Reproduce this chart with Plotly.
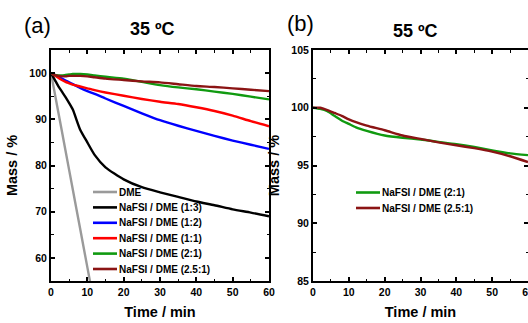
import plotly.graph_objects as go

# ---------------- data ----------------
t_a = [0, 1, 2, 3, 4, 5, 6, 8, 10, 12, 15, 20, 25, 30, 35, 40, 45, 50, 55, 60]
dme_t = [0, 2, 4, 6, 8, 10, 12]
dme_mass = [100, 91.6, 83.2, 74.8, 66.4, 58.0, 49.6]
mass_1_3 = [100, 98.6, 97.2, 96.0, 94.8, 93.5, 92.1, 87.8, 85.0, 82.3, 79.6, 77.0, 75.3, 74.2, 73.2, 72.2, 71.4, 70.5, 69.8, 69.0]
mass_1_2 = [100, 99.6, 99.2, 98.8, 98.4, 98.0, 97.6, 96.8, 96.1, 95.5, 94.5, 92.9, 91.3, 89.8, 88.6, 87.5, 86.4, 85.4, 84.5, 83.6]
mass_1_1 = [100, 99.5, 99.0, 98.5, 98.1, 97.8, 97.5, 97.1, 96.7, 96.3, 95.8, 95.1, 94.4, 93.8, 93.3, 92.6, 91.8, 90.8, 89.6, 88.5]
mass_2_1 = [100, 99.6, 99.5, 99.5, 99.6, 99.7, 99.8, 99.8, 99.7, 99.5, 99.2, 98.8, 98.1, 97.4, 96.9, 96.5, 96.0, 95.5, 94.9, 94.3]
mass_25_1 = [100, 99.6, 99.4, 99.3, 99.3, 99.4, 99.4, 99.4, 99.3, 99.1, 98.8, 98.5, 98.2, 98.0, 97.6, 97.2, 97.0, 96.7, 96.4, 96.1]

t_b = [0, 2, 4, 6, 8, 10, 12, 15, 20, 25, 30, 35, 40, 45, 50, 55, 60]
mass55_2_1 = [100, 99.9, 99.7, 99.3, 98.9, 98.6, 98.3, 98.0, 97.6, 97.4, 97.25, 97.05, 96.85, 96.6, 96.3, 96.05, 95.9]
mass55_25_1 = [100, 100, 99.8, 99.55, 99.3, 99.0, 98.75, 98.45, 98.05, 97.6, 97.3, 97.0, 96.75, 96.5, 96.2, 95.8, 95.3]

labels_a = ["DME", "NaFSI / DME (1:3)", "NaFSI / DME (1:2)", "NaFSI / DME (1:1)",
            "NaFSI / DME (2:1)", "NaFSI / DME (2.5:1)"]
labels_b = ["NaFSI / DME (2:1)", "NaFSI / DME (2.5:1)"]
x_ticks = [0, 10, 20, 30, 40, 50, 60]
y_ticks_a = [60, 70, 80, 90, 100]
y_ticks_b = [85, 90, 95, 100, 105]

# ---------------- style ----------------
FONT = "Liberation Sans, Arial, sans-serif"
C_GRAY = "#9a9a9a"
C_BLACK = "#000000"
C_BLUE = "#0000ff"
C_RED = "#ff0000"
C_GREEN = "#109a10"
C_BROWN = "#8b1414"
colors_a = [C_GRAY, C_BLACK, C_BLUE, C_RED, C_GREEN, C_BROWN]
colors_b = [C_GREEN, C_BROWN]
LW = 2.4

W, H = 528, 323
def px(x):
    return x / W
def py(y):
    return 1 - y / H

fig = go.Figure()
series_a = [(dme_t, dme_mass), (t_a, mass_1_3), (t_a, mass_1_2), (t_a, mass_1_1),
            (t_a, mass_2_1), (t_a, mass_25_1)]
for (x, y), c, name in zip(series_a, colors_a, labels_a):
    fig.add_trace(go.Scatter(x=x, y=y, mode="lines", name=name, showlegend=False,
                             line=dict(color=c, width=LW, shape="spline", smoothing=0.6),
                             xaxis="x", yaxis="y"))
for y, c, name in zip([mass55_2_1, mass55_25_1], colors_b, labels_b):
    fig.add_trace(go.Scatter(x=t_b, y=y, mode="lines", name=name, showlegend=False,
                             line=dict(color=c, width=LW, shape="spline", smoothing=0.6),
                             xaxis="x2", yaxis="y2"))

tickfont = dict(family=FONT, size=10.5, color="black", weight="bold")
titlefont = dict(family=FONT, size=14.5, color="black", weight="bold")

def xax(domain, anchor):
    return dict(domain=domain, anchor=anchor, range=[0, 60], tickvals=x_ticks,
                ticks="inside", ticklen=4, tickwidth=1.5, tickcolor="black",
                minor=dict(dtick=5, ticks="inside", ticklen=2.5, tickwidth=1.2, tickcolor="black"),
                showline=True, linewidth=2, linecolor="black", mirror="ticks",
                showgrid=False, zeroline=False, tickfont=tickfont, automargin=False,
                ticklabeloverflow="allow",
                title=dict(text="Time / min", font=titlefont, standoff=10))

def yax(domain, anchor, rng, tv, minor_dt):
    return dict(domain=domain, anchor=anchor, range=rng, tickvals=tv,
                ticks="inside", ticklen=4, tickwidth=1.5, tickcolor="black",
                minor=dict(dtick=minor_dt, tick0=rng[0], ticks="inside", ticklen=2.5, tickwidth=1.2, tickcolor="black"),
                showline=True, linewidth=2, linecolor="black", mirror="ticks",
                showgrid=False, zeroline=False, tickfont=tickfont, automargin=False,
                title=dict(text="Mass / %", font=titlefont, standoff=8))

ydom = [py(281), py(50)]
fig.update_layout(
    width=W, height=H,
    margin=dict(l=0, r=0, t=0, b=0),
    paper_bgcolor="white", plot_bgcolor="white",
    xaxis=xax([px(51), px(269)], "y"),
    yaxis=yax(ydom, "x", [55, 105], y_ticks_a, 5),
    xaxis2=xax([px(313), 1.0], "y2"),
    yaxis2=yax(ydom, "x2", [85, 105], y_ticks_b, 2.5),
    showlegend=False,
)

# panel labels and titles
ann = [
    dict(text="(a)", x=px(37), y=py(25), font=dict(family=FONT, size=22, color="black")),
    dict(text="35 ºC", x=px(152), y=py(29), font=dict(family=FONT, size=18, color="black", weight="bold")),
    dict(text="(b)", x=px(300), y=py(24), font=dict(family=FONT, size=22, color="black")),
    dict(text="55 ºC", x=px(415), y=py(31), font=dict(family=FONT, size=18, color="black", weight="bold")),
]
for a in ann:
    fig.add_annotation(xref="paper", yref="paper", showarrow=False, xanchor="center", yanchor="middle", **a)

# manual legends (compact row spacing like the original)
def legend(labels, colors, x0, y0, dy):
    for i, (lab, c) in enumerate(zip(labels, colors)):
        yy = py(y0 + i * dy)
        fig.add_shape(type="line", xref="paper", yref="paper",
                      x0=px(x0), x1=px(x0 + 24), y0=yy, y1=yy,
                      line=dict(color=c, width=2.6))
        fig.add_annotation(xref="paper", yref="paper", showarrow=False,
                           x=px(x0 + 24), y=yy, xanchor="left", yanchor="middle",
                           text=lab, font=dict(family=FONT, size=10, color="black", weight="bold"))

legend(labels_a, colors_a, 93, 192, 15.4)
legend(labels_b, colors_b, 356, 192.5, 15.5)

# remove the default page margin so the figure fills the 528x323 window exactly
fig.write_html("out.html",
               config={"displayModeBar": False},
               post_script="document.body.style.margin='0';document.body.style.overflow='hidden';")
